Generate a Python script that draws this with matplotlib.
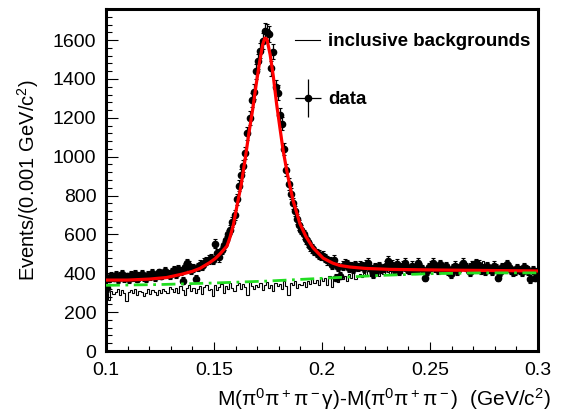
import numpy as np
import matplotlib
matplotlib.use("Agg")
from matplotlib import pyplot as plt
from matplotlib.lines import Line2D
from matplotlib.legend_handler import HandlerErrorbar
from matplotlib.ticker import MultipleLocator

plt.rcParams['font.family'] = ['Liberation Sans', 'DejaVu Sans']
plt.rcParams['mathtext.fontset'] = 'custom'
plt.rcParams['mathtext.rm'] = 'Liberation Sans'
plt.rcParams['mathtext.it'] = 'Liberation Sans:italic'

# bins of 0.001 GeV/c^2 from 0.1 to 0.3
bin_lo = 0.1
bin_hi = 0.3
n_bins = 200

data_counts = [
    322, 372, 385, 378, 392, 370, 388, 395, 376, 384,
    368, 390, 380, 395, 372, 386, 398, 382, 375, 392,
    386, 400, 380, 392, 404, 388, 395, 410, 398, 392,
    405, 415, 398, 420, 410, 362, 430, 452, 440, 418,
    425, 372, 432, 445, 440, 455, 462, 470, 478, 468,
    552, 505, 482, 520, 545, 570, 600, 625, 665, 700,
    780, 850, 905, 950, 1020, 1120, 1200, 1290, 1335, 1440,
    1490, 1545, 1595, 1645, 1640, 1630, 1455, 1540, 1360, 1330,
    1215, 1170, 1040, 930, 860, 810, 760, 720, 680, 650,
    625, 600, 575, 560, 540, 528, 515, 505, 495, 488,
    490, 478, 466, 462, 445, 470, 378, 430, 388, 440,
    450, 448, 425, 438, 420, 442, 430, 440, 436, 425,
    445, 455, 420, 398, 430, 415, 438, 420, 428, 440,
    465, 430, 445, 420, 450, 410, 432, 440, 455, 425,
    418, 440, 428, 415, 455, 430, 420, 378, 410, 432,
    440, 455, 425, 415, 448, 430, 420, 435, 410, 398,
    428, 440, 412, 425, 438, 455, 430, 420, 405, 440,
    430, 452, 445, 418, 425, 412, 435, 420, 410, 440,
    425, 378, 405, 430, 420, 448, 432, 415, 405, 412,
    425, 418, 405, 430, 420, 410, 370, 415, 378, 405,
]

incl_bkg = [
    300, 262, 310, 295, 305, 320, 290, 312, 300, 258,
    305, 315, 298, 320, 290, 310, 302, 285, 300, 318,
    295, 312, 305, 290, 315, 300, 320, 308, 296, 330,
    318, 305, 325, 298, 335, 312, 290, 322, 340, 310,
    325, 300, 318, 335, 295, 330, 342, 312, 320, 285,
    340, 315, 328, 345, 300, 332, 318, 350, 325, 310,
    338, 352, 320, 345, 330, 290, 355, 335, 320, 342,
    330, 348, 315, 340, 355, 325, 338, 310, 350, 332,
    345, 320, 358, 335, 290, 348, 340, 362, 325, 345,
    338, 355, 330, 360, 345, 370, 350, 365, 340, 378,
    360, 375, 340, 385, 330, 365, 380, 355, 390, 372,
    385, 360, 395, 378, 400, 370, 388, 395, 380, 402,
    390, 410, 385, 400, 395, 412, 388, 405, 398, 415,
    405, 395, 420, 408, 398, 415, 402, 425, 410, 400,
    418, 405, 425, 412, 400, 420, 430, 408, 415, 425,
    410, 428, 418, 435, 405, 420, 440, 415, 425, 432,
    418, 438, 425, 410, 445, 430, 440, 420, 452, 465,
    440, 470, 455, 445, 462, 430, 450, 425, 438, 420,
    432, 415, 428, 440, 410, 425, 435, 418, 430, 412,
    425, 440, 415, 430, 420, 435, 410, 428, 418, 405,
]

# fit curve
fit_x = [0.100, 0.110, 0.120, 0.128, 0.135, 0.140, 0.1435, 0.148, 0.1505,
         0.1528, 0.156, 0.1574, 0.159, 0.1606, 0.1625, 0.1644, 0.166, 0.168,
         0.1695, 0.171, 0.1725, 0.1735, 0.1745, 0.176, 0.1775, 0.179, 0.1805,
         0.182, 0.184, 0.1866, 0.1898, 0.1925, 0.1958, 0.2005, 0.205, 0.2083,
         0.213, 0.220, 0.2315, 0.245, 0.260, 0.280, 0.300]
fit_y = [365, 365, 370, 378, 395, 410, 425, 455, 475,
         500, 540, 585, 650, 745, 850, 985, 1110, 1250,
         1370, 1480, 1575, 1610, 1605, 1525, 1410, 1270, 1150,
         1032, 910, 774, 655, 590, 532, 478, 452, 440,
         432, 425, 420, 418, 416, 414, 412]

# smooth background component
bkg_x = [0.100, 0.125, 0.150, 0.175, 0.200, 0.225, 0.250, 0.275, 0.300]
bkg_y = [338, 342, 350, 360, 374, 388, 398, 402, 402]

edges = np.linspace(bin_lo, bin_hi, n_bins + 1)
centers = 0.5 * (edges[1:] + edges[:-1])
counts = np.array(data_counts)

fig = plt.figure(figsize=(5.67, 4.13), dpi=100)
ax = fig.add_axes([106 / 567, 1 - 351 / 413, 432 / 567, 342 / 413])

ax.stairs(incl_bkg, edges, color='black', lw=0.8, zorder=2)
ax.errorbar(centers, counts, yerr=np.sqrt(counts), fmt='o', color='black',
            ms=4.5, elinewidth=0.9, capsize=1.2, capthick=0.8, zorder=3)
ax.plot(fit_x, fit_y, color='red', lw=2.3, zorder=4)
ax.plot(bkg_x, bkg_y, color='#22dd22', lw=2.0, ls=(0, (5, 2, 1, 2)), zorder=5)

ax.set_xlim(bin_lo, bin_hi)
ax.set_ylim(0, 1760)
ax.xaxis.set_major_locator(MultipleLocator(0.05))
ax.xaxis.set_minor_locator(MultipleLocator(0.01))
ax.yaxis.set_major_locator(MultipleLocator(200))
ax.yaxis.set_minor_locator(MultipleLocator(40))
ax.set_xticks([0.1, 0.15, 0.2, 0.25, 0.3])
ax.set_xticklabels(['0.1', '0.15', '0.2', '0.25', '0.3'])
ax.tick_params(axis='both', which='both', direction='in', top=False,
               right=False, labelsize=14, width=0.8)
ax.tick_params(axis='x', which='major', length=6.5, pad=8)
ax.tick_params(axis='x', which='minor', length=3.6)
ax.tick_params(axis='y', which='major', length=8.5, pad=7)
ax.tick_params(axis='y', which='minor', length=4.3)
for s in ax.spines.values():
    s.set_linewidth(2.2)

ax.set_ylabel('Events/(0.001 GeV/c$^2$)', fontsize=14.5)
ax.yaxis.set_label_coords(-0.15, 0.5)
ax.set_xlabel('M(π$^0$π$^+$π$^-$γ)-M(π$^0$π$^+$π$^-$)  (GeV/c$^2$)',
              fontsize=15, ha='right', va='center')
ax.xaxis.set_label_coords(1.03, -0.14)

# legend entries
h_bkg = Line2D([], [], color='black', lw=0.8)
h_data = ax.errorbar([], [], xerr=[], yerr=[], fmt='o', color='black',
                     ms=4.5, elinewidth=0.9)
leg = ax.legend([h_bkg, h_data], ['inclusive backgrounds', 'data'],
                loc='upper left', bbox_to_anchor=(0.4375, 0.93),
                frameon=False, borderpad=0, borderaxespad=0,
                handlelength=1.35, handletextpad=0.4, labelspacing=2.2,
                prop={'weight': 'bold', 'size': 13.5},
                handler_map={type(h_data): HandlerErrorbar(xerr_size=0.7, yerr_size=1.0)})

fig.savefig('out.png', dpi=100)
